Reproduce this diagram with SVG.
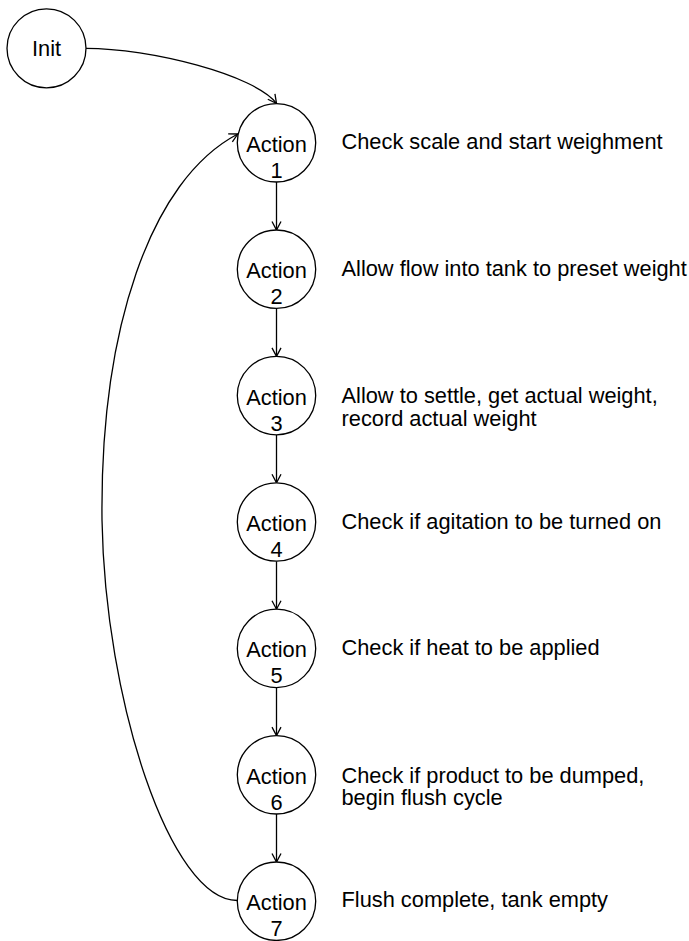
<svg xmlns="http://www.w3.org/2000/svg" width="689" height="941" viewBox="0 0 689 941">
<style>
.node circle{fill:#fff;stroke:#000;stroke-width:1.3}
text{font-family:"Liberation Sans",Arial,sans-serif;font-size:21.8px;fill:#000}
.c{text-anchor:middle}
.edge{fill:none;stroke:#000;stroke-width:1.3}
</style>
<defs>
<marker id="ah" markerUnits="userSpaceOnUse" markerWidth="12" markerHeight="12" refX="9" refY="5" orient="auto" overflow="visible">
<path d="M0.5,0.5 L9,5 L0.5,9.5" fill="none" stroke="#000" stroke-width="1.3"/>
</marker>
</defs>
<g id="edges">
<path class="edge" d="M86,48.3 C150,48.3 255,75 276.5,103.3" marker-end="url(#ah)"/>
<path class="edge" d="M276.5,182 L276.5,230" marker-end="url(#ah)"/>
<path class="edge" d="M276.5,308.4 L276.5,356.4" marker-end="url(#ah)"/>
<path class="edge" d="M276.5,434.8 L276.5,482.8" marker-end="url(#ah)"/>
<path class="edge" d="M276.5,561.2 L276.5,609.2" marker-end="url(#ah)"/>
<path class="edge" d="M276.5,687.6 L276.5,735.6" marker-end="url(#ah)"/>
<path class="edge" d="M276.5,814 L276.5,862" marker-end="url(#ah)"/>
<path class="edge" d="M237.3,900.5 C170,900.5 105,700 102,520 C100,330 150,180 237.8,134" marker-end="url(#ah)"/>
</g>
<g id="init" class="node"><circle cx="46.5" cy="48.3" r="39.5"/><text class="c" x="46.5" y="56.3">Init</text></g>
<g id="a1" class="node"><circle cx="276.5" cy="142.8" r="39.2"/><text class="c" x="276.5" y="151.8">Action</text><text class="c" x="276.5" y="177.8">1</text></g>
<g id="a2" class="node"><circle cx="276.5" cy="269.2" r="39.2"/><text class="c" x="276.5" y="278.2">Action</text><text class="c" x="276.5" y="304.2">2</text></g>
<g id="a3" class="node"><circle cx="276.5" cy="395.6" r="39.2"/><text class="c" x="276.5" y="404.6">Action</text><text class="c" x="276.5" y="430.6">3</text></g>
<g id="a4" class="node"><circle cx="276.5" cy="522" r="39.2"/><text class="c" x="276.5" y="531">Action</text><text class="c" x="276.5" y="557">4</text></g>
<g id="a5" class="node"><circle cx="276.5" cy="648.4" r="39.2"/><text class="c" x="276.5" y="657.4">Action</text><text class="c" x="276.5" y="683.4">5</text></g>
<g id="a6" class="node"><circle cx="276.5" cy="774.8" r="39.2"/><text class="c" x="276.5" y="783.8">Action</text><text class="c" x="276.5" y="809.8">6</text></g>
<g id="a7" class="node"><circle cx="276.5" cy="901.2" r="39.2"/><text class="c" x="276.5" y="910.2">Action</text><text class="c" x="276.5" y="936.2">7</text></g>
<g id="labels">
<text x="341.5" y="149.3">Check scale and start weighment</text>
<text x="341.5" y="275.7">Allow flow into tank to preset weight</text>
<text x="341.5" y="403.3">Allow to settle, get actual weight,</text>
<text x="341.5" y="425.8">record actual weight</text>
<text x="341.5" y="528.5">Check if agitation to be turned on</text>
<text x="341.5" y="654.9">Check if heat to be applied</text>
<text x="341.5" y="782.5">Check if product to be dumped,</text>
<text x="341.5" y="805">begin flush cycle</text>
<text x="341.5" y="907.2">Flush complete, tank empty</text>
</g>
</svg>
